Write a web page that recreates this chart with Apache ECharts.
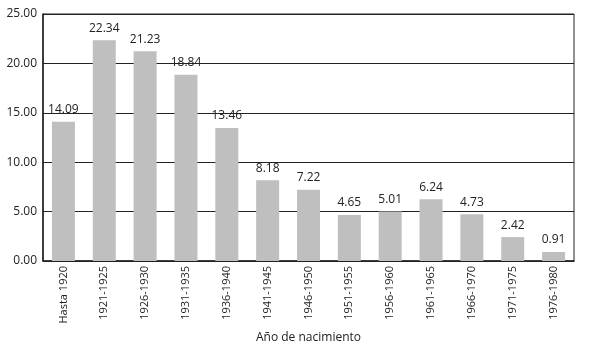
<!DOCTYPE html>
<html>
<head>
<meta charset="utf-8">
<script src="https://cdn.jsdelivr.net/npm/echarts@6/dist/echarts.min.js"></script>
<style>
  html, body { margin: 0; padding: 0; background: #fff; }
  #chart { width: 589px; height: 342px; }
</style>
</head>
<body>
<div id="chart"></div>
<script>
const categories = ['Hasta 1920', '1921-1925', '1926-1930', '1931-1935', '1936-1940', '1941-1945',
  '1946-1950', '1951-1955', '1956-1960', '1961-1965', '1966-1970', '1971-1975', '1976-1980'];
const values = [14.09, 22.34, 21.23, 18.84, 13.46, 8.18, 7.22, 4.65, 5.01, 6.24, 4.73, 2.42, 0.91];
const yTicks = [0, 5, 10, 15, 20, 25];

const font = '"Open Sans", "Liberation Sans", sans-serif';
const chart = echarts.init(document.getElementById('chart'));

const option = {
  animation: false,
  grid: {
    left: 43, right: 15, top: 14, bottom: 81,
    outerBoundsMode: 'none',
    containLabel: false,
    show: true, borderColor: '#222', borderWidth: 1
  },
  xAxis: {
    type: 'category',
    data: categories,
    name: 'Año de nacimiento',
    nameLocation: 'middle',
    nameGap: 61,
    nameTextStyle: { color: '#222', fontSize: 12, fontFamily: font },
    axisLine: { lineStyle: { color: '#222', width: 1.5 } },
    axisTick: { show: false },
    axisLabel: {
      rotate: 90, interval: 0, color: '#222', fontSize: 11, fontFamily: font, margin: 5
    }
  },
  yAxis: {
    type: 'value',
    min: yTicks[0],
    max: yTicks[yTicks.length - 1],
    interval: 5,
    axisLine: { show: true, lineStyle: { color: '#222', width: 1.5 } },
    axisTick: { show: false },
    axisLabel: {
      color: '#222', fontSize: 12, fontFamily: font, margin: 6,
      formatter: v => v.toFixed(2)
    },
    splitLine: { lineStyle: { color: '#222', width: 1.2 } }
  },
  series: [{
    type: 'bar',
    data: values,
    barWidth: 23,
    itemStyle: { color: '#bfbfbf' },
    label: {
      show: true, position: 'top', distance: 6,
      color: '#222', fontSize: 12, fontFamily: font,
      formatter: p => p.value.toFixed(2)
    }
  }]
};
chart.setOption(option);
</script>
</body>
</html>
